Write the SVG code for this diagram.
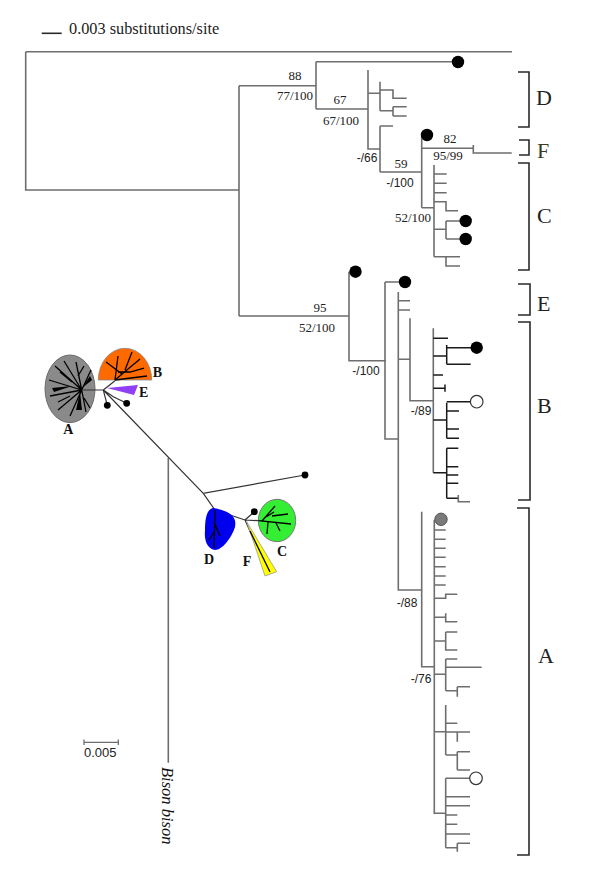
<svg xmlns="http://www.w3.org/2000/svg" width="600" height="889" viewBox="0 0 600 889">
<style>
.br{fill:none;stroke:#6e6e6e;stroke-width:1.6}
.bk{fill:none;stroke:#1a1a1a;stroke-width:1.5}
.brk{fill:none;stroke:#2a2a2a;stroke-width:1.6}
.sup{font-family:"Liberation Serif",serif;font-size:13px;fill:#222;text-anchor:middle}
.sup2{font-family:"Liberation Sans",sans-serif;font-size:12px;fill:#222;text-anchor:middle}
.cl{font-family:"Liberation Serif",serif;font-size:22px;fill:#222}
.ul{font-family:"Liberation Serif",serif;font-size:14px;fill:#111;font-weight:bold}
.dot{fill:#000}
.odot{fill:#fff;stroke:#333;stroke-width:1.2}
.ut{fill:none;stroke:#333;stroke-width:1.2}
.inner{fill:none;stroke:#000;stroke-width:1.3}
</style>
<rect width="600" height="889" fill="#fff"/>

<g id="scale-top">
<path d="M41.7,33.3 H61.7" class="brk"/>
<text x="69" y="33.5" style="font-family:'Liberation Serif',serif;font-size:16.3px;fill:#222">0.003 substitutions/site</text>
</g>

<g id="connectors">
<path class="br" d="M25.7,51.7 H512 M25.7,51.7 V190 H239 M239,85.7 V316 M239,85.7 H316
M316,61.7 V109 M316,61.7 H452 M316,109 H368
M368,70 V149 H380 M368,93.3 H380 M380,81.7 V110.7
M380,90 H393 V98.3 H406.7 M380,110.7 H393 M393,106.7 V116 M393,106.7 H406.7 M393,116 H406.7
M380,126 V172 M380,126 H393 M380,172 H421.7
M421.7,135 V207.7 M421.7,148.3 H473.3 M473.3,145 V153 H511.7
M421.7,207.7 H434 M434,165 V256.7
M434,174 H446.7 M434,183.3 H446.7 M434,192.7 H446.7
M434,201.7 H446 V210.7 H458
M434,229.3 H446 M446,221 V239 M446,221 H460 M446,239 H460
M434,256.7 H460 M446,256.7 V266 H460"/>
<path class="br" d="M239,316 H349 M349,271.7 V360.7 H386
M385,282 V439 H398.3 M385,282 H400
M398.3,292 V590 H421.7 M398.3,300.7 H410 M398.3,310 H410 M398.3,359.3 H410
M410,318.3 V400.7 H433.3 M433.3,328.3 V472.7"/>
<path class="bk" d="M433.3,338.3 H448
M433.3,356 H446.7 M446.7,345 V364.3 M446.7,347.7 H471 M446.7,364.3 H470.7
M433.3,375 H443 M433.3,388.3 H445 M445,384.5 V391.7
M433.3,420 H446.7 M446.7,402.7 V438.3 M446.7,401.7 H471 M446.7,411 H459 M446.7,429 H459 M446.7,438.3 H459
M433.3,472.7 H446.7 M446.7,448.3 V498.3 M446.7,448.3 H458.3 M446.7,466.7 H458.3 M446.7,475 H458.3 M446.7,483.3 H458.3 M446.7,498.3 H458.3"/>
<path class="br" d="M458.3,495 V501.7 H470"/>
<path class="br" d="M421.7,511.7 V666.7 H434.3 M434.3,520 V813.3 H445.7
M434.3,530 H445.7 M434.3,539.3 H445.7 M434.3,548.3 H445.7 M434.3,557.3 H445.7 M434.3,566.7 H445.7 M434.3,576 H445.7 M434.3,585 H445.7
M434.3,598.3 H445.7 V594.3 H457.3
M434.3,617.3 H445.7 M445.7,613.3 V621.7 H457.3
M434.3,641 H445.7 M445.7,632 V650 H457.3 M445.7,632 H457.3
M434.3,674.3 H445.7 M445.7,659 V690.7 M445.7,659 H457.3 M445.7,667.3 H481.7 M445.7,690.7 H457.3 M457.3,686.7 V696.7 M457.3,686.7 H470
M434.3,731.7 H445.7 M445.7,705 V755 M445.7,723.3 H457.3 M445.7,732 H470 M457.3,732 V741.7 M445.7,755 H457.3 M457.3,751.7 V770 M457.3,751.7 H470 M457.3,770 H470
M445.7,778.3 V847.7 M445.7,778.3 H470 M445.7,796.7 H470 M445.7,805.7 H470 M445.7,815 H457.3 M445.7,824.3 H457.3 M445.7,834 H470 M445.7,847.7 H457.3 M457.3,843.3 V851.7 M457.3,843.3 H470"/>
</g>

<g id="tips">
<circle class="dot" cx="458" cy="62" r="6.2"/>
<circle class="dot" cx="427" cy="135" r="6.2"/>
<circle class="dot" cx="465.7" cy="221" r="6.2"/>
<circle class="dot" cx="465.7" cy="239" r="6.2"/>
<circle class="dot" cx="355.5" cy="271.7" r="6.2"/>
<circle class="dot" cx="405" cy="282" r="6.2"/>
<circle class="dot" cx="476.7" cy="347.7" r="6.2"/>
<circle class="odot" cx="476.7" cy="401.7" r="6.3"/>
<circle cx="441" cy="519.3" r="6.2" fill="#7a7a7a" stroke="#555" stroke-width="1"/>
<circle class="odot" cx="476" cy="778.3" r="6.3"/>
</g>

<g id="supports">
<text class="sup" x="295" y="80">88</text>
<text class="sup" x="295" y="100">77/100</text>
<text class="sup" x="340" y="104">67</text>
<text class="sup" x="341" y="125">67/100</text>
<text class="sup2" x="367" y="162">-/66</text>
<text class="sup" x="401" y="168">59</text>
<text class="sup" x="450" y="143">82</text>
<text class="sup" x="448" y="160">95/99</text>
<text class="sup2" x="400" y="187">-/100</text>
<text class="sup" x="413" y="222">52/100</text>
<text class="sup" x="320" y="312">95</text>
<text class="sup" x="317" y="332">52/100</text>
<text class="sup2" x="366" y="375">-/100</text>
<text class="sup2" x="421" y="415">-/89</text>
<text class="sup2" x="407" y="607">-/88</text>
<text class="sup2" x="421" y="683">-/76</text>
</g>

<g id="clade-D"><path class="brk" d="M518,72 H529 V127 H518"/><text class="cl" x="536" y="105">D</text></g>
<g id="clade-F"><path class="brk" d="M519,140 H529 V155 H519"/><text class="cl" x="537" y="158" style="fill:#3a3a1e">F</text></g>
<g id="clade-C"><path class="brk" d="M518,163 H529 V270 H518"/><text class="cl" x="537" y="223">C</text></g>
<g id="clade-E"><path class="brk" d="M518,284 H530 V315 H518"/><text class="cl" x="537" y="311">E</text></g>
<g id="clade-B"><path class="brk" d="M518,322 H530 V500 H518"/><text class="cl" x="537" y="413">B</text></g>
<g id="clade-A"><path class="brk" d="M517,508 H529 V855 H517"/><text class="cl" x="538" y="663">A</text></g>

<g id="unrooted">
<ellipse cx="70" cy="388.8" rx="25" ry="33.8" fill="#8a8a8a" stroke="#6a6a6a" stroke-width="1"/>
<path class="inner" d="M81.7,390 L55,366 M81.7,390 L49,380 M81.7,390 L50,396 M81.7,390 L58,410 M81.7,390 L70,416 M81.7,390 L86,412 M81.7,390 L91,370 M81.7,390 L76,362 M81.7,390 L64,361 M72,382 L60,372 M70,396 L58,402 M84,398 L90,408 M78,376 L84,366"/>
<path d="M80,392 L76,410 L82,410 Z M72,386 L52,388 L54,392 Z M82,388 L90,376 L92,380 Z" fill="#000"/>
<path d="M98.3,380 A26.7,31.7 0 0 1 151.7,380 Z" fill="#ff6a00" stroke="#888" stroke-width="0.8"/>
<path class="inner" d="M115,380 L118,356 M115,380 L140,359 M115,380 L147,376 M118,372 L130,372 M125,370 L132,352 M122,374 L106,362 M130,372 L144,368"/>
<polygon points="107,388 138,385 134,395" fill="#8f3ff5"/>
<path class="ut" d="M81.7,390 H103.3 L107.3,405.3 M103.3,390 L115,380.7 M103.3,390 L113.3,396.7 L126.7,403.3 M103.3,390 L203.3,493.3 L305,475 M203.3,493.3 L215,510 L245,520 L258.3,520.7 M245,520 L254.3,511.7 M245,520 L268,571"/>
<path class="br" d="M168.3,458 V762.7"/>
<circle class="dot" cx="107.3" cy="405.3" r="3.4"/>
<circle class="dot" cx="126.7" cy="403.3" r="3.4"/>
<circle class="dot" cx="305" cy="475" r="3.4"/>
<circle class="dot" cx="254.3" cy="511.7" r="3.4"/>
<path d="M213,508 C226,510 238,515 235,527 C231,539 222,550 215,550 C207,549 204,540 205,530 C205,518 207,509 213,508 Z" fill="#0000ee"/>
<path class="inner" d="M215,510 L214,548 M214,522 L220,536 M215,530 L209,540"/>
<ellipse cx="277" cy="520.5" rx="18.7" ry="21.2" fill="#33ee33" stroke="#777" stroke-width="1"/>
<path class="inner" d="M258.3,520.7 L291,524 M262,521 L275,506 M268,522 L267,534 M272,516 L288,514 M276,523 L280,531 M266,517 L274,512"/>
<polygon points="246.7,521.7 265,576 276.7,571.7" fill="#ffff00" stroke="#999" stroke-width="0.8"/>
<path class="inner" d="M250,531 L270,572"/>
<text class="ul" x="68.3" y="434" text-anchor="middle">A</text>
<text class="ul" x="152.7" y="377">B</text>
<text class="ul" x="139" y="397">E</text>
<text class="ul" x="204" y="564">D</text>
<text class="ul" x="242.7" y="566">F</text>
<text class="ul" x="277" y="556">C</text>
<text x="162" y="767" transform="rotate(90 162 767)" style="font-family:'Liberation Serif',serif;font-style:italic;font-size:16.5px;fill:#111">Bison bison</text>
</g>

<g id="scale-bottom">
<path class="br" d="M84,742.3 H118.3 M84,739.5 V745 M118.3,739.5 V745" style="stroke-width:1.3"/>
<text x="84" y="757" style="font-family:'Liberation Sans',sans-serif;font-size:13px;fill:#222">0.005</text>
</g>
</svg>
